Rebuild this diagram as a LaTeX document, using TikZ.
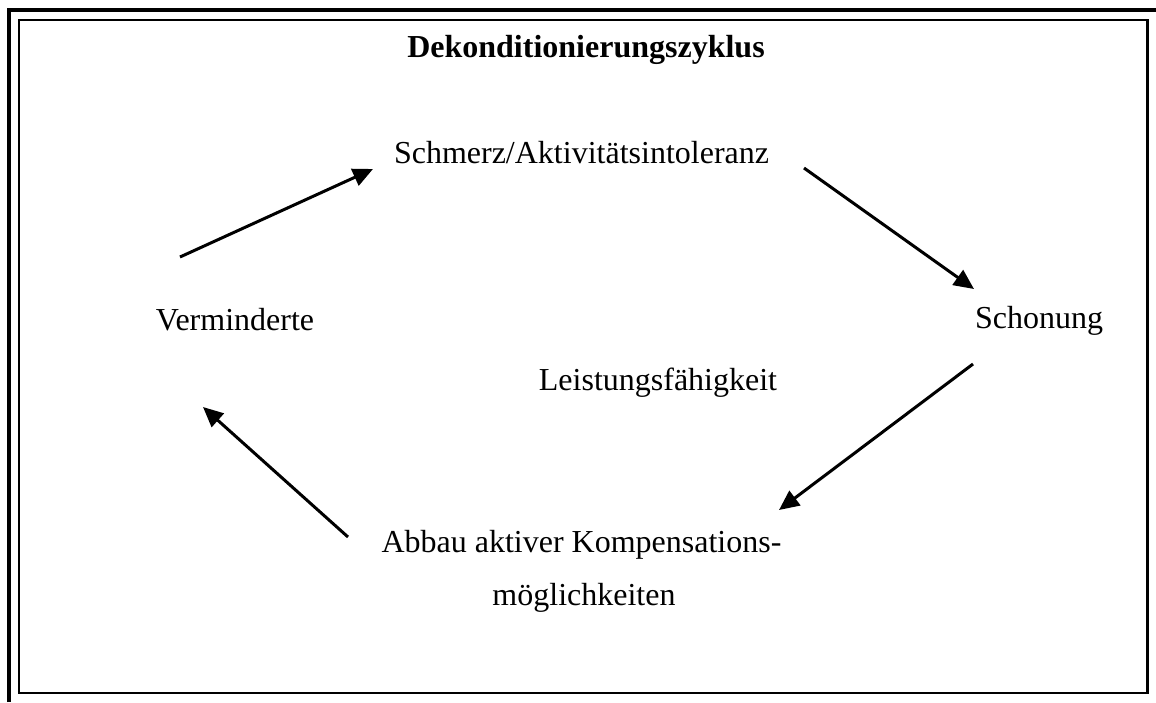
\documentclass[tikz,border=0pt]{standalone}
\usepackage{fontspec}
\setmainfont{Liberation Serif}
\usetikzlibrary{arrows.meta}
\tikzset{
  lbl/.style={inner sep=0pt, anchor=base, font=\fontsize{32}{38}\selectfont},
  ttl/.style={inner sep=0pt, anchor=base, font=\fontsize{32}{38}\selectfont\bfseries},
  arr/.style={line width=3pt, -{Triangle[length=20pt,width=18pt]}},
  frame/.style={line width=2.5pt},
  outer/.style={line width=4.5pt}
}
\begin{document}
\begin{tikzpicture}[x=1pt,y=-1pt]
\useasboundingbox (0,0) rectangle (1156,702);
% outer thick frame lines
\draw[outer] (9,702) -- (9,10) -- (1156,10);
% inner frame
\draw[frame] (19,20) rectangle (1147.5,693);
% texts
\node[ttl] (title) at (586,57) {Dekonditionierungszyklus};
\node[lbl] (schmerz) at (581.5,163) {Schmerz/Aktivitätsintoleranz};
\node[lbl] (schonung) at (1039,328) {Schonung};
\node[lbl] (vermind) at (235,330) {Verminderte};
\node[lbl] (leist) at (658,390) {Leistungsfähigkeit};
\node[lbl] (abbau) at (581.5,552) {Abbau aktiver Kompensations-};
\node[lbl] (moegl) at (584,605) {möglichkeiten};
% arrow end points
\coordinate (a1s) at (180,257);
\coordinate (a1e) at (373,169);
\coordinate (a2s) at (804,168);
\coordinate (a2e) at (974,289);
\coordinate (a3s) at (973,364);
\coordinate (a3e) at (779,510);
\coordinate (a4s) at (348,537);
\coordinate (a4e) at (203,407);
\draw[arr] (a1s) -- (a1e);
\draw[arr] (a2s) -- (a2e);
\draw[arr] (a3s) -- (a3e);
\draw[arr] (a4s) -- (a4e);
\end{tikzpicture}
\end{document}
